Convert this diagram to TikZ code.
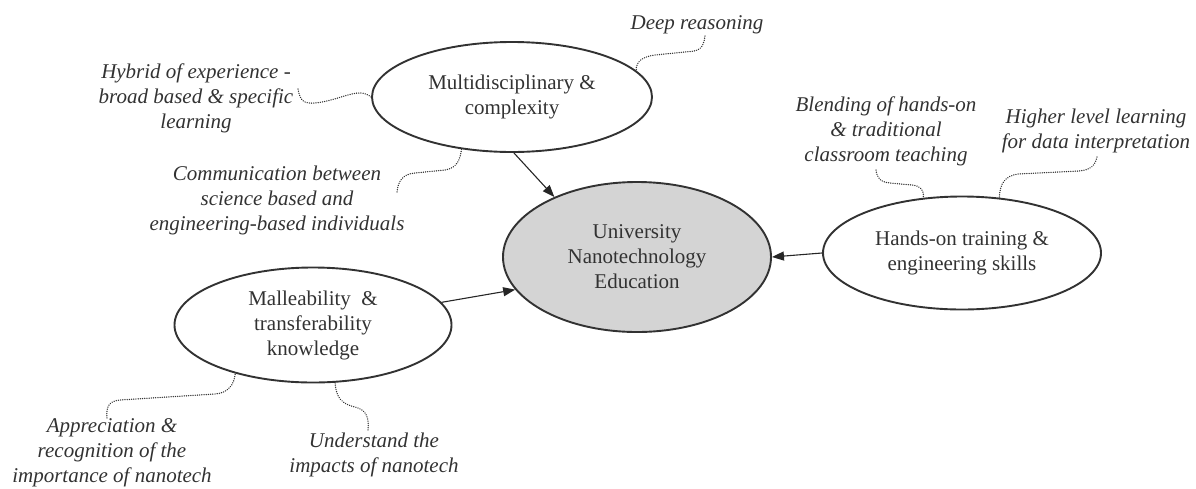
\documentclass[tikz,border=0pt]{standalone}
\usepackage{fontspec}
\setmainfont{Liberation Serif}
\usetikzlibrary{shapes.geometric,arrows.meta,calc}
\definecolor{ink}{RGB}{50,50,50}
\definecolor{edgec}{RGB}{50,50,50}
\definecolor{hubfill}{RGB}{212,212,212}
\begin{document}
\begin{tikzpicture}[x=1pt,y=-1pt,
  bubble/.style={ellipse, draw=edgec, line width=1.9pt, inner sep=0pt, align=center, text=ink, font=\fontsize{21}{25}\selectfont},
  hubstyle/.style={bubble, fill=hubfill},
  lbl/.style={align=center, text=ink, inner sep=0pt, font=\fontsize{21}{25}\selectfont\itshape},
  squig/.style={draw=edgec, line width=1.4pt, dash pattern=on 0.1pt off 2.1pt, line cap=round},
  arr/.style={draw=black!85, line width=1.1pt, -{Triangle[length=12pt,width=9pt]}}]
\useasboundingbox (0,0) rectangle (1196,488);

\node[bubble, minimum width=280pt, minimum height=110pt] (multi) at (512,97) {Multidisciplinary \&\\complexity};
\node[hubstyle, minimum width=268pt, minimum height=150pt] (hub) at (637,257) {University\\Nanotechnology\\Education};
\node[bubble, minimum width=278pt, minimum height=113pt] (hands) at (962,253) {Hands-on training \&\\engineering skills};
\node[bubble, minimum width=277pt, minimum height=115pt] (mall) at (313,325) {Malleability\ \ \&\\transferability\\knowledge};

\node[lbl] (deep) at (697,25) {Deep reasoning};
\node[lbl] (hybrid) at (196,98) {Hybrid of experience -\\broad based \& specific\\learning};
\node[lbl] (comm) at (277,200) {Communication between\\science based and\\engineering-based individuals};
\node[lbl] (blend) at (886,131) {Blending of hands-on\\\& traditional\\classroom teaching};
\node[lbl] (higher) at (1096,131) {Higher level learning\\for data interpretation};
\node[lbl] (apprec) at (112,453) {Appreciation \&\\recognition of the\\importance of nanotech};
\node[lbl] (under) at (374,455) {Understand the\\impacts of nanotech};

\coordinate (d1) at (705,36);
\coordinate (h1) at (298,89);
\coordinate (c1) at (397,192);
\coordinate (b1) at (876,170);
\coordinate (g1) at (1097,157);
\coordinate (a1) at (107,418);
\coordinate (u1) at (368,430);

\draw[squig] (d1) .. controls (703,50) and (699,51) .. (685,52) -- (655,55) .. controls (641,57) and (636,62) .. (multi.12);
\draw[squig] (h1) .. controls (300,100) and (303,104) .. (315,103) .. controls (335,101) and (350,92) .. (362,93) .. controls (367,94) and (370,96) .. (multi.west);
\draw[squig] (c1) .. controls (398,182) and (402,174) .. (415,173) -- (445,170) .. controls (457,168) and (460,160) .. (multi.-134);
\draw[squig] (b1) .. controls (877,178) and (880,182) .. (890,183) -- (912,185) .. controls (921,186) and (924,190) .. (hands.125);
\draw[squig] (g1) .. controls (1095,166) and (1090,170) .. (1079,171) -- (1018,174) .. controls (1005,176) and (1000,183) .. (hands.56);
\draw[squig] (a1) .. controls (106,408) and (108,401) .. (120,400) -- (215,394) .. controls (228,393) and (234,385) .. (mall.-148);
\draw[squig] (u1) .. controls (369,418) and (367,410) .. (355,407) .. controls (342,404) and (336,398) .. (mall.-69);

\draw[arr] (multi.-88) -- (hub.144);
\draw[arr] (mall.10) -- (hub.195);
\draw[arr] (hands.west) -- (hub.east);
\end{tikzpicture}
\end{document}
